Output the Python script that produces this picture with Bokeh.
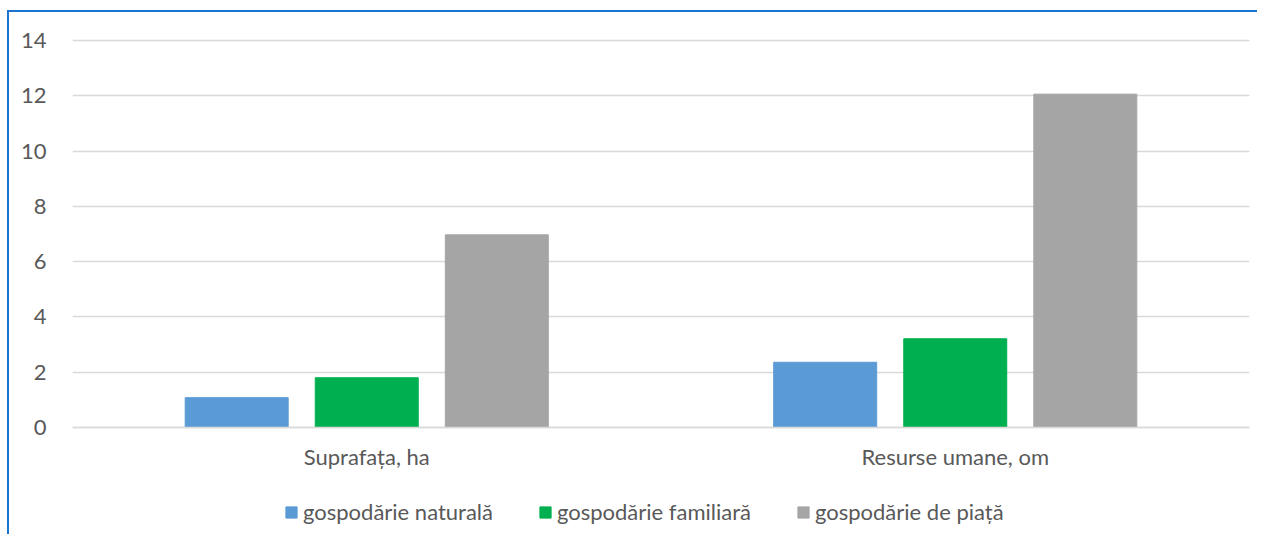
from bokeh.plotting import figure
from bokeh.models import ColumnDataSource, FactorRange, Range1d, Legend, LegendItem
from bokeh.transform import dodge
from bokeh.embed import file_html
from bokeh.resources import INLINE

categories = ["Suprafața, ha", "Resurse umane, om"]
series_names = ["gospodărie naturală", "gospodărie familiară", "gospodărie de piață"]
natural = [1.08, 2.36]
familial = [1.80, 3.21]
market = [6.97, 12.06]
y_ticks = [0, 2, 4, 6, 8, 10, 12, 14]
colors = ["#5B9BD5", "#00B050", "#A5A5A5"]

FONT = "Lato"
FS = "22px"
TXT = "#595959"
GRID = "#D9D9D9"

source = ColumnDataSource(dict(cat=categories, nat=natural, fam=familial, mkt=market))

px_per_unit = 387 / 14.0
p = figure(x_range=FactorRange(*categories, range_padding=0),
           y_range=Range1d(-109 / px_per_unit, 14 + 6 / px_per_unit),
           width=1250, height=524,
           output_backend="svg", toolbar_location=None,
           min_border_left=63, min_border_right=10,
           min_border_top=22, min_border_bottom=0)
p.styles = {"border-left": "2px solid #1B75D0", "border-top": "2px solid #1B75D0",
            "margin-left": "7px", "margin-top": "10px"}
p.outline_line_color = None

step = 0.221
bw = 0.175
renderers = []
for off, col, c in zip([-step, 0, step], ["nat", "fam", "mkt"], colors):
    r = p.vbar(x=dodge("cat", off, range=p.x_range), top=col, width=bw,
               source=source, fill_color=c, line_color=c)
    renderers.append(r)

p.xgrid.grid_line_color = None
p.ygrid.grid_line_color = GRID
p.ygrid.grid_line_width = 1.5
p.yaxis.ticker = y_ticks
p.yaxis.axis_line_color = None
p.yaxis.major_tick_line_color = None
p.yaxis.minor_tick_line_color = None
p.yaxis.major_label_standoff = 20
p.yaxis.major_label_text_font = FONT
p.yaxis.major_label_text_font_size = FS
p.yaxis.major_label_text_color = TXT

p.xaxis.fixed_location = 0
p.xaxis.axis_line_color = GRID
p.xaxis.axis_line_width = 1.5
p.xaxis.major_tick_line_color = None
p.xaxis.minor_tick_line_color = None
p.xaxis.major_label_standoff = 9
p.xaxis.major_label_text_font = FONT
p.xaxis.major_label_text_font_size = FS
p.xaxis.major_label_text_color = TXT

items = [LegendItem(label=n, renderers=[r]) for n, r in zip(series_names, renderers)]
legend = Legend(items=items, orientation="horizontal", location=(212, 11),
                border_line_color=None, background_fill_alpha=0,
                label_text_color=TXT, label_text_font=FONT, label_text_font_size=FS,
                glyph_width=14, glyph_height=14, label_standoff=5, spacing=45,
                padding=0, margin=0)
p.add_layout(legend, "center")

open("out.html", "w").write(file_html(p, INLINE))
